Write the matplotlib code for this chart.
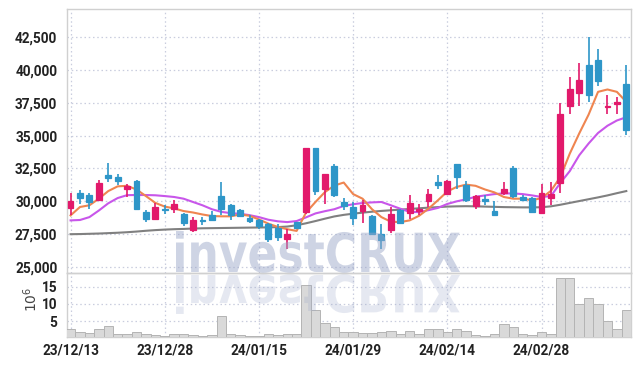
import matplotlib
matplotlib.use("Agg")
import matplotlib.pyplot as plt
import numpy as np
from matplotlib.textpath import TextPath
from matplotlib.patches import PathPatch
from matplotlib.font_manager import FontProperties
from matplotlib.transforms import Affine2D, IdentityTransform
from matplotlib.ticker import FuncFormatter

# ---------------- data ----------------
opens = [29490, 30660, 30480, 30130, 32000, 31850, 30970, 31520, 29180, 28680,
         29380, 29390, 29010, 27790, 28560, 28930, 30400, 29750, 29310, 28760,
         28550, 28250, 27970, 27100, 28420, 29180, 34020, 30970, 32670, 29950,
         29570, 29260, 28860, 27540, 27790, 29370, 29140, 29260, 30020, 31470,
         30590, 32820, 31270, 29620, 30180, 29240, 30630, 32540, 30330, 30250,
         29110, 30280, 31390, 37260, 38210, 40360, 40740, 37190, 37440, 38920]
highs = [30660, 30840, 30630, 31600, 32950, 32110, 31350, 31600, 29310, 29870,
         29700, 30080, 29140, 28800, 28800, 29260, 31470, 29820, 29390, 28930,
         28680, 28350, 28300, 27920, 28420, 34090, 34020, 32110, 32820, 30280,
         29950, 30080, 28930, 28300, 29570, 29440, 30460, 29820, 30970, 31980,
         31600, 32820, 31520, 30510, 30510, 30020, 31470, 32670, 30510, 30330,
         31350, 31470, 37490, 39470, 40540, 42470, 41560, 38080, 37900, 40360]
lows = [28930, 29825, 29440, 30130, 31470, 31220, 30330, 29390, 28420, 28680,
        29060, 29140, 28120, 27660, 28170, 28500, 28930, 28600, 28800, 28380,
        27920, 26900, 26980, 26400, 27920, 29060, 30460, 29820, 30330, 29310,
        28170, 28350, 27410, 26400, 27580, 28300, 28680, 28930, 29570, 30970,
        30510, 30970, 29950, 29440, 29700, 28990, 30510, 30250, 30020, 29110,
        29110, 29700, 30630, 36610, 37240, 37570, 38760, 36680, 36680, 35030]
closes = [30000, 30280, 29950, 31420, 31780, 31550, 31200, 29440, 28630, 29540,
          29360, 29820, 28350, 28600, 28540, 28550, 29440, 28930, 28880, 28500,
          28100, 27160, 27280, 27540, 28000, 34020, 30780, 32060, 30460, 29640,
          28760, 29700, 27490, 27030, 29010, 28350, 29900, 29390, 30590, 31270,
          31520, 31850, 30080, 30380, 30020, 28990, 30940, 30380, 30080, 29180,
          30660, 30590, 36680, 38510, 39220, 38080, 39170, 37240, 37570, 35460]
volumes = [2.9, 2.0, 1.7, 2.7, 3.6, 1.5, 1.5, 2.0, 1.5, 1.2,
           0.9, 1.3, 1.5, 1.0, 0.7, 1.0, 6.5, 1.5, 1.0, 0.9,
           0.7, 1.3, 1.0, 1.3, 1.3, 15.5, 8.4, 4.4, 3.4, 1.8,
           2.0, 1.7, 1.7, 1.8, 2.1, 1.3, 2.3, 1.3, 2.9, 2.9,
           1.8, 2.9, 2.3, 1.2, 0.9, 1.5, 4.1, 3.4, 1.5, 1.2,
           2.0, 1.5, 17.4, 17.4, 9.9, 11.6, 9.9, 5.1, 2.9, 8.2]
ma_short = [28930, 29570, 29700, 30200, 30780, 31140, 31180, 30900, 30400, 29880,
            29600, 29460, 29260, 29150, 29000, 28880, 28860, 28860, 29000, 28900,
            28620, 28300, 28050, 27880, 27750, 29150, 29950, 30700, 31200, 31430,
            30550, 30200, 29400, 28800, 28450, 28420, 28550, 28900, 29440, 30080,
            30750, 31100, 31270, 31180, 30900, 30680, 30330, 30200, 30200, 30080,
            30250, 30800, 31850, 33630, 35160, 36600, 38330, 38510, 38330, 37570]
ma_mid = [28550, 28580, 28800, 29300, 29850, 30250, 30470, 30480, 30480, 30460,
          30400, 30330, 30200, 29950, 29700, 29400, 29200, 29100, 29050, 28950,
          28800, 28600, 28480, 28420, 28500, 28780, 29080, 29250, 29400, 29650,
          29780, 29870, 29920, 29950, 29700, 29440, 29200, 29180, 29330, 29500,
          29800, 30000, 30150, 30350, 30450, 30550, 30600, 30600, 30550, 30450,
          30330, 30400, 31400, 32300, 33500, 34400, 35200, 35750, 36150, 36400]
ma_long = [27500, 27510, 27530, 27550, 27580, 27610, 27650, 27700, 27760, 27810,
           27850, 27880, 27900, 27930, 27950, 27960, 27970, 27980, 27990, 28000,
           28010, 28020, 28040, 28080, 28180, 28330, 28500, 28680, 28850, 28970,
           29060, 29140, 29210, 29270, 29320, 29370, 29420, 29470, 29520, 29560,
           29600, 29620, 29630, 29620, 29600, 29580, 29560, 29550, 29540, 29540,
           29550, 29620, 29740, 29880, 30020, 30160, 30300, 30450, 30620, 30780]
tick_labels = ['23/12/13', '23/12/28', '24/01/15', '24/01/29', '24/02/14', '24/02/28']
price_ticks = [25000, 27500, 30000, 32500, 35000, 37500, 40000, 42500]
vol_ticks = [5, 10, 15]

# ---------------- style ----------------
UP = '#e2196b'
DOWN = '#2e96c8'
GRID = '#c9cdde'
SPINE = '#d0d0d0'
TXT = '#222222'
tick_font = FontProperties(family='Roboto', weight='bold', size=9.8)

W, H = 639, 366
fig = plt.figure(figsize=(W / 100, H / 100), dpi=100)
fig.patch.set_facecolor('white')

ax = fig.add_axes([67 / W, 1 - 272.7 / H, (631 - 67) / W, (272.7 - 9.3) / H])
axv = fig.add_axes([67 / W, 1 - 337 / H, (631 - 67) / W, (337 - 272.7) / H], sharex=ax)

n = len(closes)
x = np.arange(n)
o = np.array(opens); c = np.array(closes); h = np.array(highs); l = np.array(lows)
colors = [UP if cc >= oo else DOWN for oo, cc in zip(o, c)]

ax.vlines(x, l, h, colors=colors, linewidth=1.2, zorder=3)
ax.bar(x, np.abs(c - o), bottom=np.minimum(o, c), width=0.62, color=colors,
       edgecolor=colors, linewidth=0.9, zorder=4)

ax.plot(x, ma_long, color='#808080', linewidth=1.5, zorder=2)
ax.plot(x, ma_mid, color='#c856ea', linewidth=1.5, zorder=2)
ax.plot(x, ma_short, color='#ef8550', linewidth=1.5, zorder=2)

ax.set_xlim(-0.38, 59.5)
ax.set_ylim(24570, 44610)
ax.set_yticks(price_ticks)
ax.yaxis.set_major_formatter(FuncFormatter(lambda v, p: f'{int(v):,}'))
ax.set_xticks(np.arange(0, n, 10))
ax.tick_params(axis='x', labelbottom=False, length=0)
ax.tick_params(axis='y', length=0, pad=7, colors=TXT)
for lab in ax.get_yticklabels():
    lab.set_fontproperties(tick_font)

axv.bar(x, volumes, width=1.0, color='#d9d9d9', edgecolor='#b4b4b4', linewidth=0.7, zorder=3)
axv.set_ylim(0.5, 19.0)
axv.set_yticks(vol_ticks)
axv.set_xticks(np.arange(0, n, 10))
axv.set_xticklabels(tick_labels)
axv.tick_params(axis='both', length=0, pad=5, colors=TXT)
axv.tick_params(axis='y', pad=7)
for lab in axv.get_yticklabels() + axv.get_xticklabels():
    lab.set_fontproperties(tick_font)
axv.set_ylabel(r'$10^{6}$', color='#444444', fontsize=10)
axv.yaxis.set_label_coords(-0.047, 0.58)

for a in (ax, axv):
    a.set_facecolor('none')
    a.grid(True, color=GRID, linestyle=(0, (1.2, 2.2)), linewidth=0.9, zorder=0)
    a.set_axisbelow(True)
    for s in a.spines.values():
        s.set_color(SPINE)
        s.set_linewidth(1.0)

# ---------------- watermark ----------------
tp = TextPath((0, 0), 'investCRUX', size=100,
              prop=FontProperties(family='DejaVu Sans', weight='bold'))
bb = tp.get_extents()
x0, x1 = 176, 460
top_img, base_img = 231, 272
sx = (x1 - x0) / bb.width
sy = (base_img - top_img) / bb.y1
t_main = Affine2D().translate(-bb.x0, 0).scale(sx, sy).translate(x0, H - base_img)
t_refl = Affine2D().translate(-bb.x0, 0).scale(sx, -sy * 0.95).translate(x0, H - base_img - 3)
fig.add_artist(PathPatch(tp, transform=t_main + IdentityTransform(), facecolor='#9aa6c8',
                         edgecolor='none', alpha=0.48, zorder=10))
fig.add_artist(PathPatch(tp, transform=t_refl + IdentityTransform(), facecolor='#9aa6c8',
                         edgecolor='none', alpha=0.25, zorder=10))

fig.savefig('out.png', dpi=100, facecolor='white')
